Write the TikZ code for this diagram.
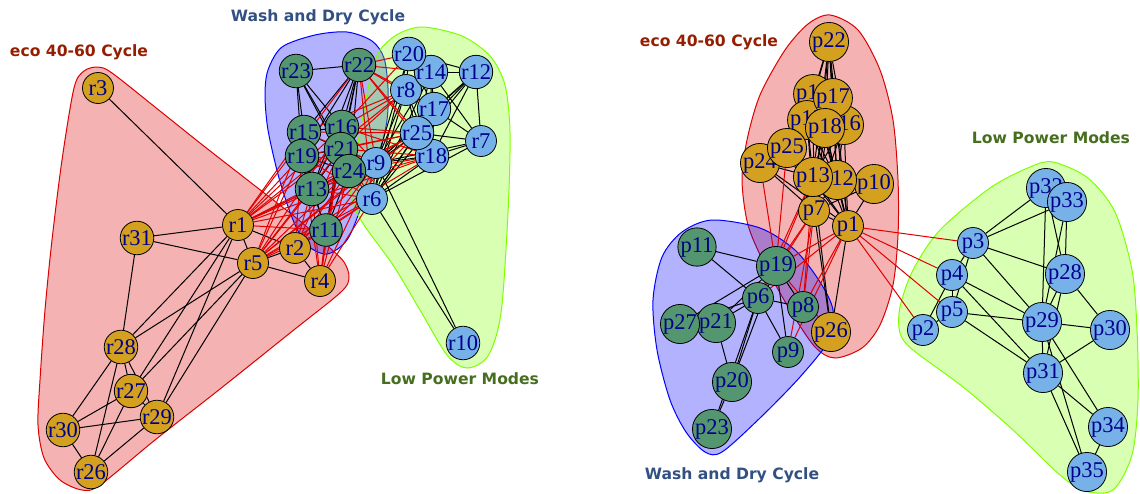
\documentclass[tikz,border=0pt]{standalone}
\usepackage{fontspec}
\setmainfont{Liberation Serif}
\newfontfamily\titlefont{DejaVu Sans}
\definecolor{gold}{RGB}{212,160,32}
\definecolor{sea}{RGB}{84,150,112}
\definecolor{sky}{RGB}{118,178,232}
\definecolor{navy}{RGB}{0,0,140}
\definecolor{hullred}{RGB}{220,0,0}
\definecolor{hullblue}{RGB}{0,0,255}
\definecolor{hullgreen}{RGB}{127,255,0}
\definecolor{edgered}{RGB}{225,0,0}
\definecolor{tred}{RGB}{150,30,0}
\definecolor{tblue}{RGB}{50,80,130}
\definecolor{tgreen}{RGB}{70,110,30}
\pgfdeclarelayer{hulls}
\pgfdeclarelayer{edges}
\pgfsetlayers{hulls,edges,main}
\begin{document}
\begin{tikzpicture}[x=1pt,y=-1pt,
  vtx/.style={circle, draw=black, line width=0.8pt, minimum size=31pt, inner sep=0pt, font=\fontsize{22.5}{22.5}\selectfont, text=navy},
  eco/.style={vtx, fill=gold},
  wash/.style={vtx, fill=sea},
  low/.style={vtx, fill=sky},
  blk/.style={draw=black, line width=1pt},
  crs/.style={draw=edgered, line width=1pt},
  hull/.style={line width=1pt, fill opacity=0.3},
  grp/.style={font=\titlefont\bfseries\fontsize{15.6}{18}\selectfont}]
\useasboundingbox (0,0) rectangle (1140,493);

% ---------- left graph ----------
\node[eco] (r1) at (238,225) {r1};
\node[eco] (r2) at (295,248) {r2};
\node[eco] (r3) at (98,88) {r3};
\node[eco] (r4) at (320,281) {r4};
\node[eco] (r5) at (253,263) {r5};
\node[low] (r6) at (372,199) {r6};
\node[low] (r7) at (481,141) {r7};
\node[low] (r8) at (406,90) {r8};
\node[low] (r9) at (376,163) {r9};
\node[low] (r10) at (463,343) {r10};
\node[wash] (r11) at (326,230) {r11};
\node[low] (r12) at (476,72) {r12};
\node[wash] (r13) at (312,189) {r13};
\node[low] (r14) at (431,72) {r14};
\node[wash] (r15) at (304,132) {r15};
\node[wash] (r16) at (342,127) {r16};
\node[low] (r17) at (434,109) {r17};
\node[low] (r18) at (432,156) {r18};
\node[wash] (r19) at (302,156) {r19};
\node[low] (r20) at (409,54) {r20};
\node[wash] (r21) at (341,149) {r21};
\node[wash] (r22) at (359,65) {r22};
\node[wash] (r23) at (296,71) {r23};
\node[wash] (r24) at (349,171) {r24};
\node[low] (r25) at (417,133) {r25};
\node[eco] (r26) at (91,472) {r26};
\node[eco] (r27) at (131,391) {r27};
\node[eco] (r28) at (121,347) {r28};
\node[eco] (r29) at (157,417) {r29};
\node[eco] (r30) at (63,430) {r30};
\node[eco] (r31) at (137,238) {r31};

% ---------- right graph ----------
\node[eco] (p1) at (848,226) {p1};
\node[low] (p2) at (923,330) {p2};
\node[low] (p3) at (973,243) {p3};
\node[low] (p4) at (952,275) {p4};
\node[low] (p5) at (952,312) {p5};
\node[wash] (p6) at (758,298) {p6};
\node[eco] (p7) at (814,211) {p7};
\node[wash] (p8) at (803,307) {p8};
\node[wash] (p9) at (788,352) {p9};
\node[eco] (p10) at (874,184) {p10};
\node[wash] (p11) at (697,247) {p11};
\node[eco] (p12) at (837,180) {p12};
\node[eco] (p13) at (813,177) {p13};
\node[eco] (p14) at (813,94) {p14};
\node[eco] (p15) at (807,120) {p15};
\node[eco] (p16) at (844,125) {p16};
\node[eco] (p17) at (833,98) {p17};
\node[eco] (p18) at (825,128) {p18};
\node[wash] (p19) at (776,266) {p19};
\node[wash] (p20) at (732,382) {p20};
\node[wash] (p21) at (716,323) {p21};
\node[eco] (p22) at (829,42) {p22};
\node[wash] (p23) at (712,429) {p23};
\node[eco] (p24) at (760,163) {p24};
\node[eco] (p25) at (787,148) {p25};
\node[eco] (p26) at (831,332) {p26};
\node[wash] (p27) at (680,324) {p27};
\node[low] (p28) at (1065,274) {p28};
\node[low] (p29) at (1042,322) {p29};
\node[low] (p30) at (1110,330) {p30};
\node[low] (p31) at (1043,373) {p31};
\node[low] (p32) at (1046,188) {p32};
\node[low] (p33) at (1067,202) {p33};
\node[low] (p34) at (1108,427) {p34};
\node[low] (p35) at (1087,472) {p35};

% ---------- group titles ----------
\node[grp, text=tred] (tl1) at (79,52) {eco 40-60 Cycle};
\node[grp, text=tblue] (tl2) at (318,17) {Wash and Dry Cycle};
\node[grp, text=tgreen] (tl3) at (460,379) {Low Power Modes};
\node[grp, text=tred] (tr1) at (709,42) {eco 40-60 Cycle};
\node[grp, text=tgreen] (tr3) at (1051,138) {Low Power Modes};
\node[grp, text=tblue] (tr2) at (732,475) {Wash and Dry Cycle};

% ---------- hulls ----------
\begin{pgfonlayer}{hulls}
\draw[hull, draw=hullred, fill=hullred] plot[smooth cycle, tension=0.5] coordinates {
 (84,71) (98,67) (112,73) (155,107) (200,143) (250,182) (300,221) (330,248) (344,262) (349,277) (341,292)
 (290,333) (220,389) (155,440) (100,485) (82,490) (60,480) (44,458) (38,425) (40,380) (45,310) (52,240) (62,160) (74,88)};
\draw[hull, draw=hullblue, fill=hullblue] plot[smooth cycle, tension=0.5] coordinates {
 (268,70) (282,47) (315,35) (347,32) (372,41) (384,58) (388,88) (387,120) (378,160) (362,205) (347,240)
 (327,254) (307,245) (293,220) (279,178) (268,130) (265,95)};
\draw[hull, draw=hullgreen, fill=hullgreen] plot[smooth cycle, tension=0.5] coordinates {
 (380,50) (398,34) (423,27) (462,36) (490,56) (505,85) (510,133) (508,213) (501,313) (488,356) (467,368)
 (447,355) (420,310) (393,265) (362,222) (351,195) (355,160) (364,110) (372,70)};
\draw[hull, draw=hullred, fill=hullred] plot[smooth cycle, tension=0.5] coordinates {
 (830,15) (858,30) (880,70) (893,120) (898,180) (898,235) (893,285) (880,325) (862,348) (835,358) (815,347)
 (790,310) (765,265) (748,225) (742,180) (747,140) (760,95) (785,50) (808,24)};
\draw[hull, draw=hullblue, fill=hullblue] plot[smooth cycle, tension=0.5] coordinates {
 (712,220) (760,228) (795,250) (820,282) (833,310) (829,340) (800,377) (760,418) (722,452) (705,452)
 (686,432) (670,400) (657,350) (653,300) (662,257) (682,232)};
\draw[hull, draw=hullgreen, fill=hullgreen] plot[smooth cycle, tension=0.5] coordinates {
 (1053,162) (1030,167) (990,188) (940,230) (913,270) (900,307) (900,333) (913,350) (963,387) (1013,430)
 (1060,475) (1085,491) (1113,490) (1132,455) (1138,400) (1137,330) (1132,270) (1115,212) (1088,178)};
\end{pgfonlayer}

% ---------- edges ----------
\begin{pgfonlayer}{edges}
\foreach \a/\b in {r3/r1, r1/r31, r31/r5, r31/r28, r1/r5, r1/r2, r5/r2, r5/r4, r2/r4, r1/r28, r1/r27, r1/r29,
 r5/r28, r5/r27, r5/r29, r28/r27, r28/r29, r28/r30, r28/r26, r27/r29, r27/r30, r27/r26, r29/r30, r29/r26, r30/r26,
 r23/r22, r23/r15, r23/r19, r23/r16, r23/r21, r23/r24, r22/r15, r22/r16, r22/r19, r22/r21, r22/r24, r22/r13, r22/r11,
 r15/r16, r15/r19, r15/r21, r16/r21, r19/r21, r19/r13, r21/r24, r13/r24, r13/r11, r24/r11, r21/r11, r16/r24, r19/r24,
 r15/r13, r21/r13, r16/r13, r16/r11, r19/r11,
 r20/r14, r20/r8, r20/r12, r14/r12, r14/r8, r14/r17, r14/r25, r14/r18, r14/r7, r12/r17, r12/r7, r12/r25, r12/r18,
 r12/r9, r12/r6, r17/r7, r25/r7, r18/r7, r17/r25, r25/r18, r8/r17, r8/r25, r8/r18, r17/r18, r20/r17, r9/r6, r9/r18,
 r9/r25, r9/r17, r9/r8, r9/r14, r9/r20, r9/r7, r6/r18, r6/r25, r6/r17, r6/r8, r6/r14, r6/r20, r6/r7, r6/r10, r9/r10,
 p22/p14, p22/p17, p22/p15, p22/p18, p22/p16, p22/p13, p22/p12, p22/p7, p22/p1,
 p14/p17, p14/p15, p14/p18, p14/p16, p14/p13, p14/p12, p14/p7, p14/p1, p17/p15, p17/p18, p17/p16, p17/p13, p17/p12,
 p17/p7, p17/p1, p15/p18, p15/p16, p15/p13, p15/p12, p15/p7, p15/p1, p18/p16, p18/p13, p18/p12, p18/p7, p18/p1,
 p16/p13, p16/p12, p16/p7, p16/p1, p13/p12, p13/p7, p13/p1, p12/p7, p12/p1, p7/p1,
 p25/p24, p25/p15, p25/p14, p25/p13, p25/p7, p25/p1, p24/p13, p24/p7, p24/p1, p10/p12, p10/p7, p10/p1,
 p26/p7, p26/p13, p26/p1,
 p11/p19, p11/p6, p19/p6, p19/p27, p19/p21, p19/p8, p19/p9, p6/p21, p6/p27, p6/p8, p6/p9, p6/p20, p6/p23,
 p21/p20, p20/p23, p19/p20,
 p3/p32, p3/p33, p3/p28, p3/p29, p3/p4, p3/p5, p4/p5, p4/p2, p4/p29, p4/p31, p5/p2, p5/p29, p5/p31, p32/p33,
 p32/p29, p32/p28, p33/p28, p33/p29, p28/p29, p28/p31, p28/p30, p29/p30, p29/p31, p29/p34, p29/p35, p30/p31,
 p31/p34, p31/p35, p34/p35}
  \draw[blk] (\a) -- (\b);
\foreach \a/\b in {r1/r19, r1/r15, r1/r13, r1/r16, r1/r21, r1/r24, r1/r11, r1/r9, r1/r6, r1/r25, r1/r18, r1/r22, r1/r8,
 r5/r19, r5/r13, r5/r21, r5/r24, r5/r11, r5/r9, r5/r6, r5/r16, r5/r25, r5/r18, r5/r15,
 r2/r13, r2/r11, r2/r24, r2/r9, r2/r6, r2/r21, r2/r19,
 r4/r11, r4/r13, r4/r24, r4/r21, r4/r9, r4/r6, r4/r19, r4/r16,
 r22/r20, r22/r8, r22/r25, r22/r18, r22/r17, r22/r14, r22/r9, r22/r6, r16/r8, r16/r25, r16/r18, r16/r20, r16/r9,
 r21/r25, r21/r18, r21/r8, r21/r9, r21/r6, r24/r9, r24/r6, r24/r25, r24/r18, r15/r8, r15/r25, r15/r9, r19/r9,
 r19/r25, r19/r6, r13/r9, r13/r6, r13/r18, r11/r9, r11/r6, r11/r25,
 p19/p24, p19/p25, p19/p13, p19/p7, p19/p1, p6/p7, p6/p1, p8/p7, p8/p1, p8/p13, p9/p7, p9/p1, p19/p26, p6/p13,
 p1/p3, p1/p4, p1/p5, p1/p2}
  \draw[crs] (\a) -- (\b);
\end{pgfonlayer}
\end{tikzpicture}
\end{document}
